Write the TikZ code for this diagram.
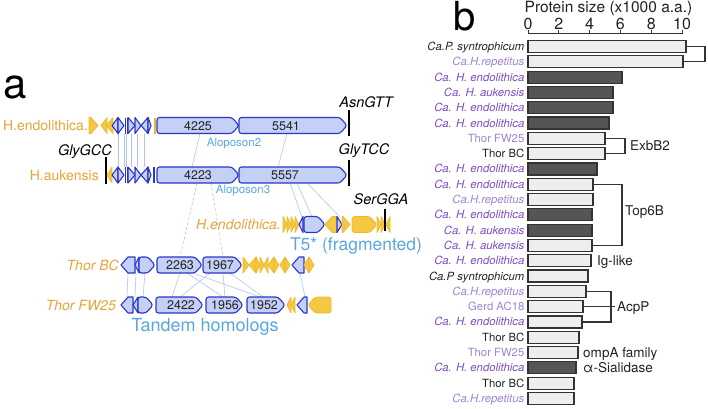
\documentclass[tikz,border=0pt]{standalone}
\usepackage{fontspec}
\setmainfont{TeX Gyre Heros}
\definecolor{gblue}{HTML}{2B36C9}
\definecolor{gfill}{HTML}{C4D0F6}
\definecolor{yel}{HTML}{F5C842}
\definecolor{yeld}{HTML}{EDB92C}
\definecolor{orng}{HTML}{E9A23B}
\definecolor{ltblue}{HTML}{5BA7DC}
\definecolor{conn}{HTML}{AFC4EC}
\definecolor{purp}{HTML}{7B4DC2}
\definecolor{lpurp}{HTML}{9F83D6}
\definecolor{barlt}{HTML}{EEEEEE}
\definecolor{bardk}{HTML}{555555}
\definecolor{edge}{HTML}{333333}
\definecolor{blk}{HTML}{222222}
\newcommand\gR[4]{\pgfmathsetmacro\ghd{min(7,#3-#2)}\draw[#1] (#2,#4-8) -- ({#3-\ghd},#4-8) -- (#3,#4) -- ({#3-\ghd},#4+8) -- (#2,#4+8) -- cycle;}
\newcommand\gL[4]{\pgfmathsetmacro\ghd{min(7,#3-#2)}\draw[#1] (#3,#4-8) -- ({#2+\ghd},#4-8) -- (#2,#4) -- ({#2+\ghd},#4+8) -- (#3,#4+8) -- cycle;}
\newcommand\tbar[3]{\draw[black, line width=1.3] (#1,#2) -- (#1,#3);}
\begin{document}
\begin{tikzpicture}[x=1pt,y=-1pt,
  bg/.style={draw=gblue, fill=gfill, line width=1.1, line join=round},
  big/.style={bg, rounded corners=2.5},
  yg/.style={draw=yeld, fill=yel, line width=0.7, line join=round},
  ybig/.style={yg, rounded corners=2.5},
  cn/.style={draw=conn, line width=0.6},
  dcn/.style={cn, dash pattern=on 3pt off 2pt},
  lab/.style={font=\fontsize{14}{16}\selectfont, text=orng, anchor=east, text height=10pt, text depth=0pt, inner sep=0},
  num/.style={font=\fontsize{12.5}{14}\selectfont, text=blk, text height=9pt, text depth=0pt, inner sep=0},
  trna/.style={font=\fontsize{14.5}{16}\selectfont\itshape, text=black, text height=10.4pt, text depth=0pt, inner sep=0},
  blu/.style={text=ltblue, inner sep=0, text depth=0pt},
  brk/.style={draw=edge, line width=1.3},
  btxt/.style={font=\fontsize{13.5}{15}\selectfont, text=blk, anchor=west, text height=9.7pt, text depth=0pt, inner sep=0},
  axt/.style={font=\fontsize{16}{18}\selectfont, text=blk, inner sep=0, text height=11.4pt, text depth=0pt}
]
\useasboundingbox (0,0) rectangle (708,408);
% panel letters
\node[font=\fontsize{42}{44}\selectfont, anchor=base west, inner sep=0] (la) at (3,98) {a};
\node[font=\fontsize{40}{42}\selectfont, anchor=base west, inner sep=0] (lb) at (453,30) {b};

% ---------------- connectors (drawn first)
\foreach \xa/\xb in {118/118,124/124,126/126,131/131,137/137,144/144,200/192,287/278}
  \draw[cn] (\xa,133.5) -- (\xb,167);
\draw[cn] (290,183) -- (302,217);
\draw[cn] (297,183) -- (312,217);
\draw[cn] (307,183) -- (340,217);
\draw[dcn] (197,183) -- (180,257);
\draw[dcn] (211,183) -- (223,257);
\foreach \xa/\xb in {128/127,136/135,145/143,180/172,187/223,193/260,210/180,223/225,230/263,300/305}
  \draw[cn] (\xa,273) -- (\xb,297);

% ---------------- row 1 (H.endolithica)
\def\ya{125.5}
\node[lab] (r1) at (88,\ya) {H.endolithica.};
\gR{yg}{89}{98}{\ya}
\gL{yg}{101}{107}{\ya}
\gL{yg}{106}{113}{\ya}
\gL{bg}{112}{118}{\ya}
\gR{bg}{118}{124}{\ya}
\draw[gblue, line width=1.6] (125.5,\ya-8) -- (125.5,\ya+8);
\draw[gblue, line width=1.6] (127.5,\ya-8) -- (127.5,\ya+8);
\gR{bg}{128}{135}{\ya}
\gR{bg}{135}{141}{\ya}
\gL{bg}{141}{148}{\ya}
\gR{bg}{148}{151}{\ya}
\draw[yeld, line width=1.2] (155,\ya-8) -- (155,\ya+8);
\gR{big}{157}{239}{\ya}
\gR{big}{239}{347}{\ya}
\tbar{349}{110}{136}
\node[num] (n4225) at (198,\ya) {4225};
\node[num] (n5541) at (286,\ya) {5541};
\node[trna] (asn) at (366,102) {AsnGTT};
\node[blu, font=\fontsize{11.5}{13}\selectfont, text height=8.3pt] (al2) at (234,142) {Aloposon2};

% ---------------- row 2 (H.aukensis)
\def\yb{175}
\node[lab] (r2) at (99,\yb) {H.aukensis};
\tbar{106}{157}{184}
\gL{yg}{107}{112}{\yb}
\gL{bg}{112}{118}{\yb}
\gR{bg}{118}{124}{\yb}
\draw[gblue, line width=1.6] (125.5,\yb-8) -- (125.5,\yb+8);
\draw[gblue, line width=1.6] (127.5,\yb-8) -- (127.5,\yb+8);
\gR{bg}{128}{135}{\yb}
\gR{bg}{135}{141}{\yb}
\gL{bg}{141}{148}{\yb}
\gR{bg}{148}{151}{\yb}
\draw[gblue, line width=1.2] (154,\yb-8) -- (154,\yb+8);
\gR{big}{157}{239}{\yb}
\gR{big}{239}{347}{\yb}
\tbar{349}{160}{186}
\node[num] (n4223) at (198,\yb) {4223};
\node[num] (n5557) at (285,\yb) {5557};
\node[trna] (glyg) at (85,150) {GlyGCC};
\node[trna] (glyt) at (364,149) {GlyTCC};
\node[blu, font=\fontsize{11.5}{13}\selectfont, text height=8.3pt] (al3) at (243,189) {Aloposon3};

% ---------------- row 3 (H.endolithica. T5*)
\def\yc{224.5}
\node[lab, font=\fontsize{14}{16}\selectfont\itshape] (r3) at (281,\yc) {H.endolithica.};
\gR{yg}{283}{287}{\yc}
\gR{yg}{287}{291}{\yc}
\gR{yg}{291}{295}{\yc}
\gR{yg}{295}{299}{\yc}
\gL{bg}{299}{303}{\yc}
\gR{big}{304}{325}{\yc}
\gL{yg}{325}{337}{\yc}
\gR{bg}{337}{342}{\yc}
\gR{yg}{342}{350}{\yc}
\gR{ybig}{352}{377}{\yc}
\gR{yg}{377}{381}{\yc}
\gR{yg}{381}{385}{\yc}
\tbar{385}{209}{231}
\gL{yg}{386}{390}{\yc}
\node[trna] (ser) at (381,199) {SerGGA};
\node[blu, font=\fontsize{17.5}{20}\selectfont, text height=12.6pt] (t5) at (356,244) {T5* (fragmented)};

% ---------------- row 4 (Thor BC)
\def\yd{265}
\node[lab, font=\fontsize{14}{16}\selectfont\itshape] (r4) at (119,\yd) {Thor BC};
\gL{bg}{121}{135}{\yd}
\gL{bg}{135}{139}{\yd}
\gR{big}{139}{155}{\yd}
\gR{big}{157}{202}{\yd}
\gR{big}{203}{242}{\yd}
\gR{yg}{243}{249}{\yd}
\gL{yg}{249}{256}{\yd}
\gR{yg}{256}{260}{\yd}
\gR{yg}{260}{264}{\yd}
\gL{yg}{264}{268}{\yd}
\gL{yg}{268}{274}{\yd}
\gR{yg}{274}{279}{\yd}
\gL{yg}{280}{285}{\yd}
\gR{yg}{285}{290}{\yd}
\gL{bg}{292}{304}{\yd}
\gL{yg}{304}{309}{\yd}
\gR{yg}{309}{314}{\yd}
\node[num] (n2263) at (180,\yd) {2263};
\node[num] (n1967) at (220,\yd) {1967};

% ---------------- row 5 (Thor FW25)
\def\ye{305}
\node[lab, font=\fontsize{14}{16}\selectfont\itshape] (r5) at (116,\ye) {Thor FW25};
\gL{bg}{121}{133}{\ye}
\gL{bg}{133}{138}{\ye}
\gR{big}{138}{153}{\ye}
\gR{big}{156}{203}{\ye}
\gR{big}{206}{243}{\ye}
\gR{big}{247}{285}{\ye}
\gL{yg}{287}{291}{\ye}
\gL{yg}{291}{295}{\ye}
\gL{bg}{297}{307}{\ye}
\gL{ybig}{308}{331}{\ye}
\node[num] (n2422) at (181,\ye) {2422};
\node[num] (n1956) at (225,\ye) {1956};
\node[num] (n1952) at (264,\ye) {1952};
\node[blu, font=\fontsize{18}{20}\selectfont, text height=13pt] (tand) at (205,325) {Tandem homologs};

% ---------------- panel b
\node[axt, font=\fontsize{15.5}{18}\selectfont, text height=11pt] (ttl) at (608.5,7) {Protein size (x1000 a.a.)};
\draw[edge, line width=1] (528,33) -- (683,33);
\foreach \v in {0,2,...,10} {
  \draw[edge, line width=1] ({528+15.4*\v},33) -- ({528+15.4*\v},29.5);
  \node[axt] at ({528+15.4*\v},23.5) {\v};
}
\foreach \i/\lab/\c/\fs/\e/\f in {
  0/{Ca.P. syntrophicum}/blk/\itshape/686/barlt,
  1/{Ca.H.repetitus}/lpurp/\itshape/683/barlt,
  2/{Ca. H. endolithica}/purp/\itshape/622/bardk,
  3/{Ca. H. aukensis}/purp/\itshape/613/bardk,
  4/{Ca. H. endolithica}/purp/\itshape/613/bardk,
  5/{Ca. H. endolithica}/purp/\itshape/609/bardk,
  6/{Thor FW25}/lpurp/\upshape/605/barlt,
  7/{Thor BC}/blk/\upshape/605/barlt,
  8/{Ca. H. endolithica}/purp/\itshape/597/bardk,
  9/{Ca. H. endolithica}/purp/\itshape/593/barlt,
  10/{Ca.H.repetitus}/lpurp/\itshape/593/barlt,
  11/{Ca. H. endolithica}/purp/\itshape/592/bardk,
  12/{Ca. H. aukensis}/purp/\itshape/592/bardk,
  13/{Ca. H. aukensis}/purp/\itshape/592/barlt,
  14/{Ca. H. endolithica}/purp/\itshape/591/barlt,
  15/{Ca.P syntrophicum}/blk/\itshape/588/barlt,
  16/{Ca.H.repetitus}/lpurp/\itshape/586/barlt,
  17/{Gerd AC18}/lpurp/\upshape/583/barlt,
  18/{Ca. H. endolithica}/purp/\itshape/582/barlt,
  19/{Thor BC}/blk/\upshape/579/barlt,
  20/{Thor FW25}/lpurp/\upshape/578/barlt,
  21/{Ca. H. endolithica}/purp/\itshape/576/bardk,
  22/{Thor BC}/blk/\upshape/574/barlt,
  23/{Ca.H.repetitus}/lpurp/\itshape/574/barlt} {
  \pgfmathsetmacro\yy{46.5+15.3*\i}
  \draw[edge, line width=1.2, fill=\f] (528,\yy-6) rectangle (\e,\yy+6);
  \node[anchor=east, inner sep=0, text=\c, font=\fontsize{11.3}{13}\selectfont\fs, text height=8.1pt, text depth=0pt] at (524.5,\yy) {\lab};
}
% brackets
\pgfmathsetmacro\ya{46.5}\pgfmathsetmacro\yb{61.8}
\draw[brk] (686,\ya) -- (705,\ya) -- (705,\yb) -- (683,\yb);
\pgfmathsetmacro\ya{46.5+15.3*6}\pgfmathsetmacro\yb{46.5+15.3*7}
\draw[brk] (605,\ya) -- (625,\ya) -- (625,\yb) -- (605,\yb);
\node[btxt] (exb) at (630,{(\ya+\yb)/2}) {ExbB2};
\pgfmathsetmacro\ya{46.5+15.3*9}\pgfmathsetmacro\yb{46.5+15.3*13}
\draw[brk] (593,\ya) -- (622,\ya) -- (622,\yb) -- (592,\yb);
\node[btxt] (top) at (625,{(\ya+\yb)/2-4}) {Top6B};
\node[btxt] (ig) at (597,{46.5+15.3*14}) {Ig-like};
\pgfmathsetmacro\ya{46.5+15.3*16}\pgfmathsetmacro\yb{46.5+15.3*17}\pgfmathsetmacro\yc{46.5+15.3*18}
\draw[brk] (586,\ya) -- (611,\ya) -- (611,\yc) -- (582,\yc);
\draw[brk] (583,\yb) -- (615,\yb);
\node[btxt] (acp) at (617,\yb) {AcpP};
\node[btxt] (omp) at (583,{46.5+15.3*20}) {ompA family};
\node[btxt] (sia) at (583,{46.5+15.3*21}) {α-Sialidase};
\end{tikzpicture}
\end{document}
